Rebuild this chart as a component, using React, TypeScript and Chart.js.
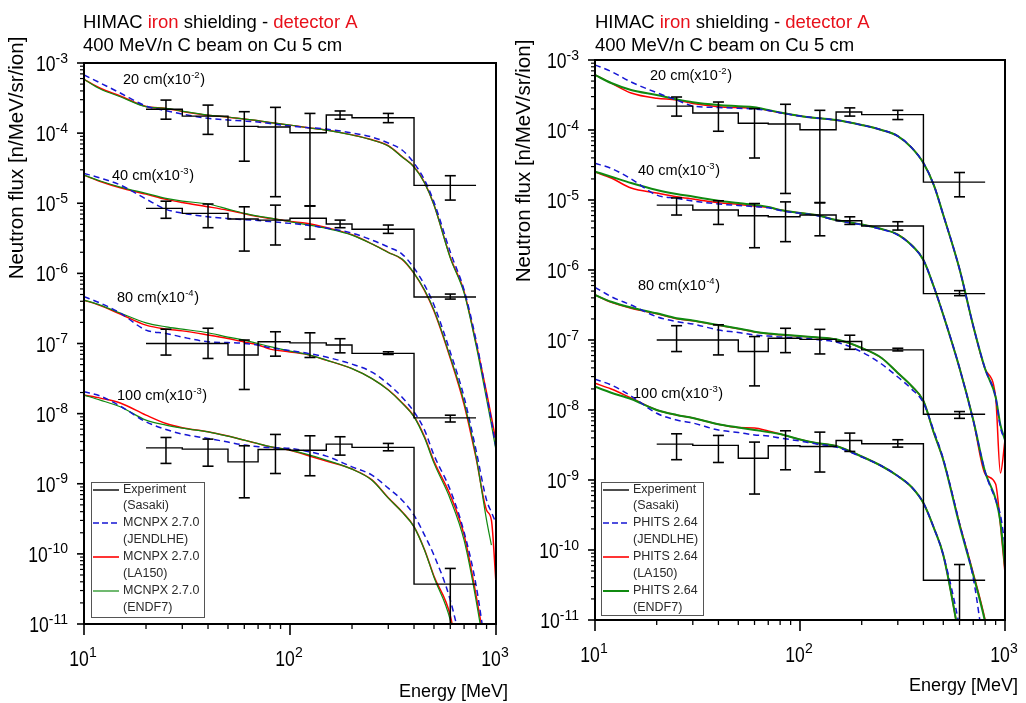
import React, { useEffect, useRef } from 'react';
import { Chart, registerables } from 'chart.js';

Chart.register(...registerables);

const FONT = '"Liberation Sans", Arial, Helvetica, sans-serif';
const BLUE = '#1616d4';
const RED = '#ff0000';
const GREEN = '#108a10';
const TITLE_RED = '#e8101a';

// ---------- axis ticks ----------
const Y_POWERS = [-3, -4, -5, -6, -7, -8, -9, -10, -11];
const X_POWERS = [1, 2, 3];

// ---------- experiment (Sasaki), same data in both panels ----------
const EXP_EDGES = [20, 30, 50, 70, 100, 150, 200, 400, 800]; // MeV bin edges
const EXP_E = [25, 40, 60, 85, 125, 175, 300, 600]; // error bar positions
const EXP20 = [2.19e-4, 1.75e-4, 1.25e-4, 1.22e-4, 1.01e-4, 1.81e-4, 1.66e-4, 1.8e-5];
const EXP20_HI = [2.96e-4, 2.51e-4, 2.02e-4, 2.33e-4, 1.91e-4, 2.07e-4, 1.91e-4, 2.47e-5];
const EXP20_LO = [1.58e-4, 9.6e-5, 3.98e-5, 1.24e-5, 9.2e-6, 1.58e-4, 1.41e-4, 1.11e-5];
const EXP40 = [8.45e-6, 7.18e-6, 5.96e-6, 5.75e-6, 6.1e-6, 5.05e-6, 4.25e-6, 4.6e-7];
const EXP40_HI = [1.07e-5, 9.75e-6, 8.9e-6, 9.4e-6, 9.1e-6, 5.75e-6, 4.89e-6, 5.07e-7];
const EXP40_LO = [6.1e-6, 4.48e-6, 2.08e-6, 2.54e-6, 3.08e-6, 4.48e-6, 3.72e-6, 4.3e-7];
const EXP80 = [1.0e-7, 1.0e-7, 6.84e-8, 1.06e-7, 1.02e-7, 9.5e-8, 7.23e-8, 8.7e-9];
const EXP80_HI = [1.6e-7, 1.65e-7, 1.12e-7, 1.47e-7, 1.42e-7, 1.17e-7, 7.62e-8, 9.5e-9];
const EXP80_LO = [6.84e-8, 6.12e-8, 2.21e-8, 6.6e-8, 6.32e-8, 7.36e-8, 6.98e-8, 7.6e-9];
const EXP100 = [3.25e-9, 3.12e-9, 2.05e-9, 3.08e-9, 3.01e-9, 3.67e-9, 3.3e-9, 3.7e-11];
const EXP100_HI = [4.57e-9, 4.33e-9, 3.48e-9, 5.05e-9, 4.83e-9, 4.68e-9, 3.76e-9, 6.2e-11];
const EXP100_LO = [1.95e-9, 1.78e-9, 6.3e-10, 1.4e-9, 1.3e-9, 2.56e-9, 2.95e-9, 1e-12];

// ---------- simulated spectra: energy grid and log10(flux) ----------
const ENERGY = [10, 12, 15, 20, 25, 30, 40, 50, 60, 70, 80, 100, 120, 150, 200, 250, 300, 350, 400, 450, 500, 600, 700, 800, 900, 950, 1000];

const MCNPX_20_JENDLHE = [-3.171, -3.285, -3.428, -3.613, -3.68, -3.728, -3.789, -3.813, -3.827, -3.842, -3.863, -3.899, -3.92, -3.942, -3.999, -4.056, -4.141, -4.241, -4.427, -4.669, -4.983, -5.696, -6.238, -6.951, -7.736, -8.1, -8.492];
const MCNPX_20_LA150 = [-3.233, -3.36, -3.47, -3.62, -3.648, -3.69, -3.745, -3.772, -3.8, -3.822, -3.85, -3.886, -3.92, -3.956, -4.025, -4.095, -4.18, -4.335, -4.48, -4.705, -5.02, -5.77, -6.26, -6.99, -7.7, -8.05, -8.4];
const MCNPX_20_ENDF7 = [-3.233, -3.371, -3.481, -3.623, -3.646, -3.685, -3.742, -3.77, -3.799, -3.82, -3.849, -3.884, -3.92, -3.956, -4.027, -4.098, -4.184, -4.341, -4.484, -4.712, -5.026, -5.782, -6.281, -7.023, -7.793, -8.158, -8.521];

const MCNPX_40_JENDLHE = [-4.574, -4.64, -4.74, -4.94, -5.087, -5.14, -5.193, -5.218, -5.233, -5.247, -5.261, -5.287, -5.311, -5.354, -5.425, -5.525, -5.625, -5.725, -5.924, -6.167, -6.452, -7.123, -7.765, -8.521, -9.234, -9.405, -9.562];
const MCNPX_40_LA150 = [-4.6, -4.69, -4.78, -4.87, -4.945, -4.99, -5.05, -5.1, -5.15, -5.19, -5.215, -5.26, -5.285, -5.345, -5.45, -5.58, -5.7, -5.8, -6.0, -6.245, -6.535, -7.21, -7.87, -8.63, -9.377, -9.519, -10.418];
const MCNPX_40_ENDF7 = [-4.598, -4.683, -4.769, -4.859, -4.93, -4.969, -5.011, -5.083, -5.144, -5.183, -5.211, -5.264, -5.304, -5.358, -5.454, -5.582, -5.703, -5.796, -5.996, -6.238, -6.524, -7.194, -7.836, -8.606, -9.519, -9.876, null];

const MCNPX_80_JENDLHE = [-6.333, -6.424, -6.566, -6.809, -6.856, -6.909, -6.976, -6.987, -6.999, -7.023, -7.059, -7.101, -7.137, -7.194, -7.294, -7.408, -7.579, -7.765, -7.974, -8.235, -8.592, -9.091, -9.69, -10.446, -11.46, -12.0, -12.6];
const MCNPX_80_LA150 = [-6.381, -6.46, -6.58, -6.738, -6.795, -6.82, -6.879, -6.93, -6.98, -7.02, -7.08, -7.12, -7.155, -7.237, -7.358, -7.5, -7.66, -7.845, -8.04, -8.33, -8.68, -9.163, -9.733, -10.588, -11.5, -12.1, -12.7];
const MCNPX_80_ENDF7 = [-6.381, -6.452, -6.566, -6.705, -6.762, -6.795, -6.847, -6.909, -6.951, -7.001, -7.044, -7.108, -7.151, -7.237, -7.358, -7.501, -7.665, -7.85, -8.046, -8.349, -8.706, -9.22, -9.805, -10.66, -11.6, -12.2, -12.8];

const MCNPX_100_JENDLHE = [-7.689, -7.75, -7.893, -8.117, -8.226, -8.292, -8.354, -8.406, -8.449, -8.471, -8.485, -8.496, -8.535, -8.606, -8.759, -8.877, -9.063, -9.234, -9.448, -9.733, -10.019, -10.66, -11.5, -12.3, -13.0, -13.3, -13.6];
const MCNPX_100_LA150 = [-7.736, -7.779, -7.848, -8.021, -8.14, -8.2, -8.26, -8.32, -8.378, -8.428, -8.471, -8.521, -8.59, -8.675, -8.79, -8.945, -9.2, -9.4, -9.61, -9.94, -10.32, -10.88, -12.0, -12.8, -13.5, -13.8, -14.0];
const MCNPX_100_ENDF7 = [-7.736, -7.807, -7.903, -8.093, -8.164, -8.207, -8.26, -8.321, -8.378, -8.428, -8.471, -8.521, -8.578, -8.663, -8.792, -8.949, -9.205, -9.405, -9.615, -9.947, -10.333, -10.946, -12.0, -12.8, -13.5, -13.8, -14.0];

const PHITS_20_JENDLHE = [-3.071, -3.164, -3.314, -3.467, -3.571, -3.657, -3.679, -3.69, -3.7, -3.721, -3.755, -3.8, -3.829, -3.857, -3.929, -4.0, -4.086, -4.251, -4.471, -4.79, -5.214, -5.986, -6.8, -7.414, -7.814, -8.25, -8.429];
const PHITS_20_LA150 = [-3.214, -3.33, -3.471, -3.547, -3.571, -3.621, -3.667, -3.679, -3.686, -3.72, -3.752, -3.8, -3.829, -3.857, -3.929, -4.0, -4.086, -4.251, -4.471, -4.79, -5.214, -5.986, -6.8, -7.414, -7.814, -8.9, -8.429];
const PHITS_20_ENDF7 = [-3.214, -3.329, -3.429, -3.5, -3.561, -3.603, -3.643, -3.661, -3.676, -3.714, -3.75, -3.8, -3.829, -3.857, -3.929, -4.0, -4.086, -4.251, -4.471, -4.79, -5.214, -5.986, -6.8, -7.414, -7.814, -8.214, -8.429];

const PHITS_40_JENDLHE = [-4.476, -4.548, -4.7, -4.929, -4.976, -5.014, -5.057, -5.079, -5.095, -5.11, -5.15, -5.19, -5.22, -5.29, -5.355, -5.42, -5.5, -5.65, -5.86, -6.24, -6.64, -7.4, -8.15, -8.886, -9.286, -9.5, -9.929];
const PHITS_40_LA150 = [-4.6, -4.686, -4.829, -4.9, -4.952, -4.986, -5.038, -5.064, -5.086, -5.105, -5.143, -5.186, -5.214, -5.286, -5.35, -5.414, -5.493, -5.643, -5.857, -6.243, -6.643, -7.4, -8.143, -8.914, -9.057, -9.643, -10.329];
const PHITS_40_ENDF7 = [-4.595, -4.667, -4.757, -4.857, -4.914, -4.95, -5.01, -5.043, -5.071, -5.1, -5.143, -5.186, -5.214, -5.286, -5.35, -5.414, -5.493, -5.643, -5.857, -6.243, -6.643, -7.4, -8.143, -8.886, -9.271, -9.6, -10.243];

const PHITS_80_JENDLHE = [-6.247, -6.381, -6.5, -6.667, -6.738, -6.771, -6.857, -6.893, -6.929, -6.943, -6.957, -6.971, -6.993, -7.029, -7.171, -7.343, -7.529, -7.7, -7.9, -8.3, -8.7, -9.62, -10.4, -11.5, -12.2, -12.6, -13.0];
const PHITS_80_LA150 = [-6.357, -6.46, -6.545, -6.625, -6.695, -6.725, -6.79, -6.84, -6.885, -6.91, -6.925, -6.945, -6.963, -6.992, -7.114, -7.257, -7.471, -7.657, -7.871, -8.329, -8.714, -9.62, -10.33, -11.0, -11.8, -12.2, -12.6];
const PHITS_80_ENDF7 = [-6.357, -6.453, -6.536, -6.619, -6.69, -6.721, -6.786, -6.836, -6.881, -6.907, -6.921, -6.943, -6.961, -6.99, -7.114, -7.257, -7.471, -7.657, -7.871, -8.329, -8.714, -9.643, -10.357, -11.029, -11.8, -12.2, -12.6];

const PHITS_100_JENDLHE = [-7.561, -7.643, -7.8, -8.047, -8.143, -8.186, -8.286, -8.321, -8.357, -8.371, -8.4, -8.443, -8.486, -8.529, -8.671, -8.8, -8.943, -9.1, -9.329, -9.686, -10.071, -11.1, -12.3, -13.0, -13.6, -13.9, -14.1];
const PHITS_100_LA150 = [-7.619, -7.7, -7.829, -8.0, -8.071, -8.114, -8.204, -8.25, -8.257, -8.3, -8.343, -8.421, -8.471, -8.514, -8.664, -8.8, -8.943, -9.1, -9.329, -9.686, -10.071, -11.286, -12.5, -13.2, -13.8, -14.0, -14.2];
const PHITS_100_ENDF7 = [-7.667, -7.753, -7.843, -8.0, -8.071, -8.114, -8.204, -8.25, -8.286, -8.314, -8.343, -8.421, -8.471, -8.514, -8.664, -8.8, -8.943, -9.1, -9.329, -9.686, -10.071, -11.286, -12.5, -13.2, -13.8, -14.0, -14.2];

// ---------- labels ----------
const DEPTHS = ['20 cm', '40 cm', '80 cm', '100 cm'];
const DEPTH_SCALE = ['-2', '-3', '-4', '-3'];
const TITLE_1 = [['HIMAC ', '#000'], ['iron', TITLE_RED], [' shielding - ', '#000'], ['detector A', TITLE_RED]];
const TITLE_2 = '400 MeV/n C beam on Cu 5 cm';
const Y_TITLE = 'Neutron flux [n/MeV/sr/ion]';
const X_TITLE = 'Energy [MeV]';
const LIBRARIES = ['(JENDLHE)', '(LA150)', '(ENDF7)'];

const EXPERIMENT = [
  [EXP20, EXP20_LO, EXP20_HI],
  [EXP40, EXP40_LO, EXP40_HI],
  [EXP80, EXP80_LO, EXP80_HI],
  [EXP100, EXP100_LO, EXP100_HI],
];

const PANELS = [
  {
    key: 'mcnpx', code: 'MCNPX 2.7.0', left: 0, width: 510,
    pad: { left: 84, right: 14, top: 63, bottom: 79 },
    curves: [
      [MCNPX_20_JENDLHE, MCNPX_20_LA150, MCNPX_20_ENDF7],
      [MCNPX_40_JENDLHE, MCNPX_40_LA150, MCNPX_40_ENDF7],
      [MCNPX_80_JENDLHE, MCNPX_80_LA150, MCNPX_80_ENDF7],
      [MCNPX_100_JENDLHE, MCNPX_100_LA150, MCNPX_100_ENDF7],
    ],
    greenWidth: 1.2,
    anno: [[123, 79], [112, 175], [117, 297], [117, 395]],
    legend: [91, 482, 113, 135],
    yTitle: [17, 158], xTitle: [508, 697], titleX: 83,
  },
  {
    key: 'phits', code: 'PHITS 2.64', left: 510, width: 516,
    pad: { left: 85, right: 21, top: 60, bottom: 83 },
    curves: [
      [PHITS_20_JENDLHE, PHITS_20_LA150, PHITS_20_ENDF7],
      [PHITS_40_JENDLHE, PHITS_40_LA150, PHITS_40_ENDF7],
      [PHITS_80_JENDLHE, PHITS_80_LA150, PHITS_80_ENDF7],
      [PHITS_100_JENDLHE, PHITS_100_LA150, PHITS_100_ENDF7],
    ],
    greenWidth: 2,
    anno: [[140, 75], [128, 170], [128, 285], [123, 393]],
    legend: [91, 482, 102, 133],
    yTitle: [14, 161], xTitle: [508, 691], titleX: 85,
  },
];

function curveDataset(logs: (number | null)[], color: string, dash: number[], width: number, order: number) {
  return {
    data: ENERGY.map((e, i) => ({ x: e, y: logs[i] === null ? null : Math.pow(10, logs[i] as number) })),
    borderColor: color,
    borderWidth: width,
    borderDash: dash,
    pointRadius: 0,
    fill: false,
    cubicInterpolationMode: 'monotone',
    spanGaps: false,
    clip: 0,
    order,
  };
}

function histDataset(levels: number[]) {
  const pts = EXP_EDGES.slice(0, -1).map((e, i) => ({ x: e, y: levels[i] }));
  pts.push({ x: EXP_EDGES[EXP_EDGES.length - 1], y: levels[levels.length - 1] });
  return {
    data: pts, stepped: 'before', borderColor: '#000', borderWidth: 1.4,
    pointRadius: 0, fill: false, clip: 0, order: 0,
  };
}

function errDataset(lo: number[], hi: number[]) {
  const pts: any[] = [];
  EXP_E.forEach((e, i) => {
    pts.push({ x: e, y: lo[i] }, { x: e, y: hi[i] }, { x: e, y: null });
  });
  return {
    data: pts, borderColor: '#000', borderWidth: 1.5, pointStyle: 'line', pointRadius: 5.5,
    pointBorderColor: '#000', pointBorderWidth: 1.6, pointBackgroundColor: '#000',
    spanGaps: false, fill: false, clip: 0, order: 0,
  };
}

function drawPow(ctx: CanvasRenderingContext2D, x: number, cy: number, exp: string, align: 'right' | 'center') {
  const HS = 0.8;
  ctx.font = `22px ${FONT}`;
  const wb = ctx.measureText('10').width * HS;
  ctx.font = `14px ${FONT}`;
  const ws = ctx.measureText(exp).width;
  const total = wb + ws;
  const x0 = align === 'right' ? x - total : x - total / 2;
  ctx.textAlign = 'left';
  ctx.textBaseline = 'alphabetic';
  ctx.save();
  ctx.translate(x0, cy + 8);
  ctx.scale(HS, 1);
  ctx.font = `22px ${FONT}`;
  ctx.fillText('10', 0, 0);
  ctx.restore();
  ctx.font = `14px ${FONT}`;
  ctx.fillText(exp, x0 + wb, cy - 0.5);
}

function drawAnno(ctx: CanvasRenderingContext2D, x: number, cy: number, depth: string, exp: string) {
  ctx.textAlign = 'left';
  ctx.textBaseline = 'alphabetic';
  ctx.font = `14.5px ${FONT}`;
  const a = `${depth}(x10`;
  ctx.fillText(a, x, cy + 5);
  const w = ctx.measureText(a).width;
  ctx.font = `9.5px ${FONT}`;
  ctx.fillText(exp, x + w + 0.5, cy - 1);
  const w2 = ctx.measureText(exp).width;
  ctx.font = `14.5px ${FONT}`;
  ctx.fillText(')', x + w + w2 + 1, cy + 5);
}

function makeDecor(cfg: any) {
  return {
    id: 'decor_' + cfg.key,
    afterDraw(chart: any) {
      const ctx: CanvasRenderingContext2D = chart.ctx;
      const ca = chart.chartArea;
      const xs = chart.scales.x;
      const ys = chart.scales.y;
      ctx.save();
      ctx.fillStyle = '#000';
      ctx.strokeStyle = '#000';

      // y ticks and labels
      Y_POWERS.forEach((p) => {
        const y = ys.getPixelForValue(Math.pow(10, p));
        ctx.lineWidth = 1.6;
        ctx.beginPath(); ctx.moveTo(ca.left - 7, y); ctx.lineTo(ca.left, y); ctx.stroke();
        if (p > -11) {
          for (let k = 2; k <= 9; k++) {
            const y2 = ys.getPixelForValue(k * Math.pow(10, p - 1));
            ctx.lineWidth = 1.2;
            ctx.beginPath(); ctx.moveTo(ca.left - 4, y2); ctx.lineTo(ca.left, y2); ctx.stroke();
          }
        }
        drawPow(ctx, ca.left - 16, y, String(p), 'right');
      });
      // x ticks and labels
      X_POWERS.forEach((p) => {
        const x = xs.getPixelForValue(Math.pow(10, p));
        ctx.lineWidth = 1.6;
        ctx.beginPath(); ctx.moveTo(x, ca.bottom); ctx.lineTo(x, ca.bottom + 11); ctx.stroke();
        if (p < 3) {
          for (let k = 2; k <= 9; k++) {
            const x2 = xs.getPixelForValue(k * Math.pow(10, p));
            ctx.lineWidth = 1.3;
            ctx.beginPath(); ctx.moveTo(x2, ca.bottom); ctx.lineTo(x2, ca.bottom + 5); ctx.stroke();
          }
        }
        drawPow(ctx, x - 1, ca.bottom + 33.5, String(p), 'center');
      });

      // frame
      ctx.lineWidth = 2;
      ctx.strokeRect(ca.left, ca.top, ca.right - ca.left, ca.bottom - ca.top);

      // titles
      ctx.textAlign = 'left';
      ctx.textBaseline = 'alphabetic';
      ctx.font = `18.5px ${FONT}`;
      let tx = cfg.titleX;
      TITLE_1.forEach(([t, c]) => {
        ctx.fillStyle = c;
        ctx.fillText(t, tx, 28);
        tx += ctx.measureText(t).width;
      });
      ctx.fillStyle = '#000';
      ctx.fillText(TITLE_2, cfg.titleX, 51);

      // axis titles
      ctx.font = `20.5px ${FONT}`;
      ctx.save();
      ctx.translate(cfg.yTitle[0], cfg.yTitle[1]);
      ctx.rotate(-Math.PI / 2);
      ctx.textAlign = 'center';
      ctx.textBaseline = 'middle';
      ctx.fillText(Y_TITLE, 0, 0);
      ctx.restore();
      ctx.font = `18px ${FONT}`;
      ctx.textAlign = 'right';
      ctx.textBaseline = 'alphabetic';
      ctx.fillText(X_TITLE, cfg.xTitle[0], cfg.xTitle[1]);

      // depth annotations
      ctx.fillStyle = '#000';
      cfg.anno.forEach((pos: number[], i: number) => drawAnno(ctx, pos[0], pos[1], DEPTHS[i], DEPTH_SCALE[i]));

      // legend
      const [lx, ly, lw, lh] = cfg.legend;
      ctx.fillStyle = '#fff';
      ctx.fillRect(lx, ly, lw, lh);
      ctx.strokeStyle = '#555';
      ctx.lineWidth = 1;
      ctx.strokeRect(lx + 0.5, ly + 0.5, lw, lh);
      const rows = [490, 506, 523, 540, 557, 574, 591, 608];
      const entries = [
        { a: 'Experiment', b: '(Sasaki)', color: '#000', dash: [] as number[], width: 1.4 },
        { a: cfg.code, b: LIBRARIES[0], color: BLUE, dash: [6, 3], width: 1.6 },
        { a: cfg.code, b: LIBRARIES[1], color: RED, dash: [], width: 1.6 },
        { a: cfg.code, b: LIBRARIES[2], color: GREEN, dash: [], width: cfg.greenWidth },
      ];
      entries.forEach((en, i) => {
        const y1 = rows[2 * i];
        const y2 = rows[2 * i + 1];
        ctx.strokeStyle = en.color;
        ctx.lineWidth = en.width;
        ctx.setLineDash(en.dash);
        ctx.beginPath(); ctx.moveTo(lx + 2, y1); ctx.lineTo(lx + 28, y1); ctx.stroke();
        ctx.setLineDash([]);
        ctx.fillStyle = '#2a2a2a';
        ctx.font = `12.5px ${FONT}`;
        ctx.textAlign = 'left';
        ctx.textBaseline = 'middle';
        ctx.fillText(en.a, lx + 32, y1);
        ctx.fillText(en.b, lx + 32, y2);
      });
      ctx.restore();
    },
  };
}

function buildConfig(cfg: any) {
  const datasets: any[] = [];
  EXPERIMENT.forEach(([lv, lo, hi]) => {
    datasets.push(histDataset(lv));
    datasets.push(errDataset(lo, hi));
  });
  cfg.curves.forEach(([jendl, la150, endf7]: any[]) => {
    datasets.push(curveDataset(jendl, BLUE, [6, 4], 1.5, 1));
    datasets.push(curveDataset(endf7, GREEN, [], cfg.greenWidth, 2));
    datasets.push(curveDataset(la150, RED, [], 1.5, 3));
  });
  return {
    type: 'line',
    data: { datasets },
    options: {
      responsive: false,
      animation: false,
      devicePixelRatio: 1,
      events: [],
      layout: { padding: cfg.pad },
      scales: {
        x: { type: 'logarithmic', min: 10, max: 1000, display: false },
        y: { type: 'logarithmic', min: 1e-11, max: 1e-3, display: false },
      },
      plugins: { legend: { display: false }, tooltip: { enabled: false }, title: { display: false } },
    },
    plugins: [makeDecor(cfg)],
  };
}

function Panel({ cfg }: { cfg: any }) {
  const ref = useRef<HTMLCanvasElement>(null);
  useEffect(() => {
    const canvas = ref.current as HTMLCanvasElement;
    const chart = new Chart(canvas, buildConfig(cfg) as any);
    return () => chart.destroy();
  }, []);
  return (
    <canvas
      ref={ref}
      width={cfg.width}
      height={703}
      style={{ position: 'absolute', left: cfg.left, top: 0, width: cfg.width, height: 703 }}
    />
  );
}

export default function App() {
  return (
    <div style={{ position: 'absolute', left: 0, top: 0, width: 1026, height: 703, background: '#fff', overflow: 'hidden' }}>
      {PANELS.map((p) => (
        <Panel key={p.key} cfg={p} />
      ))}
    </div>
  );
}
